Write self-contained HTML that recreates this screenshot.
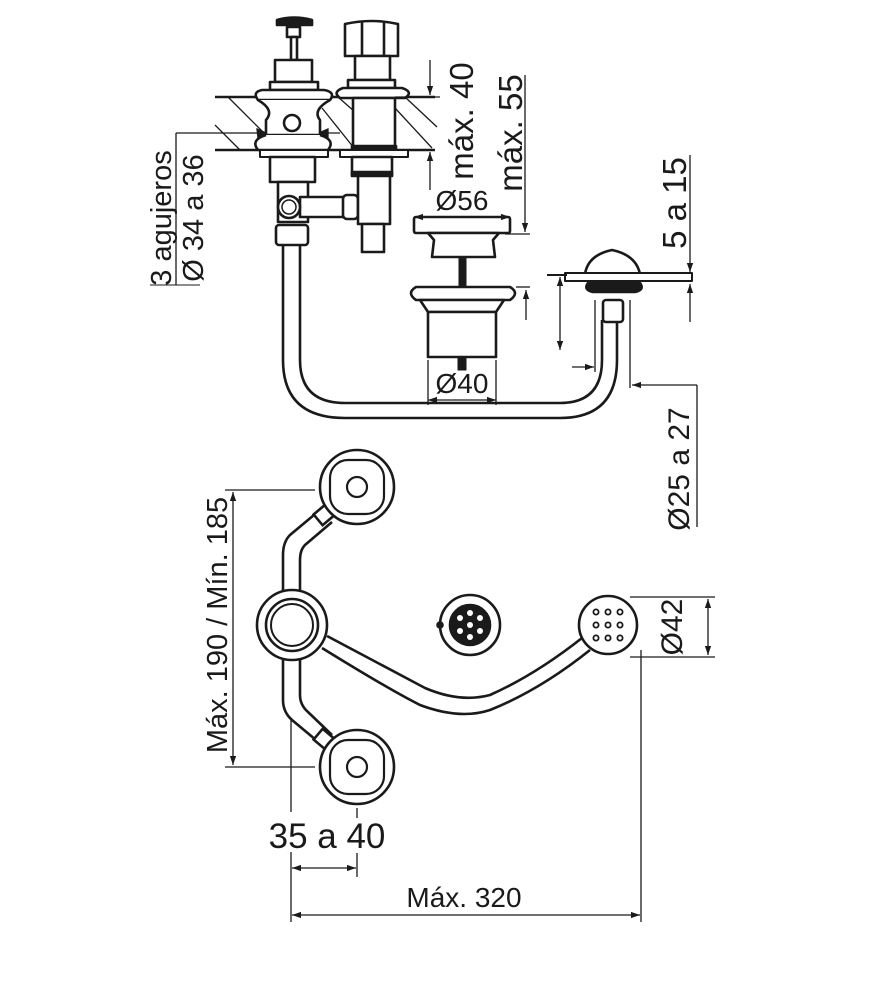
<!DOCTYPE html>
<html><head><meta charset="utf-8"><style>
html,body{margin:0;padding:0;background:#fff;}
svg{display:block;}
text{font-family:"Liberation Sans",sans-serif;fill:#1a1a1a;}
</style></head><body>
<svg width="870" height="1000" viewBox="0 0 870 1000" xmlns="http://www.w3.org/2000/svg">
<defs>
<marker id="a" viewBox="0 0 10 10" refX="10" refY="5" markerWidth="9" markerHeight="9" orient="auto-start-reverse" markerUnits="userSpaceOnUse"><path d="M0,1.5 L10,5 L0,8.5 z" fill="#1a1a1a"/></marker>
</defs>
<g stroke="#1a1a1a" fill="none" stroke-width="1.3">
<line x1="215" y1="97" x2="435" y2="97" stroke-width="2.5"/>
<line x1="215" y1="150" x2="435" y2="150" stroke-width="2.5"/>
<line x1="228" y1="97" x2="266" y2="135"/>
<line x1="215" y1="125" x2="240" y2="150"/>
<line x1="322" y1="108" x2="354" y2="148"/>
<line x1="338" y1="97" x2="355" y2="112"/>
<line x1="395" y1="108" x2="432" y2="148"/>
<line x1="405" y1="97" x2="437" y2="127"/>
<line x1="176" y1="133" x2="262" y2="133"/>
<line x1="320" y1="133" x2="340" y2="133"/>
<line x1="176" y1="133" x2="176" y2="285"/>
<line x1="150" y1="285" x2="200" y2="285" stroke-width="1"/>
<path d="M257,129 L266,133 L258,138z" fill="#1a1a1a"/>
<path d="M328,129 L319,133 L328,138z" fill="#1a1a1a"/>
</g>
<g stroke="#1a1a1a" fill="#fff" stroke-width="2.6" stroke-linejoin="round">
<path d="M277,20 Q294,15 312,20 L312,25 L277,25z" fill="#1a1a1a"/>
<rect x="287" y="27" width="13" height="10"/>
<rect x="291" y="37" width="6" height="23"/>
<rect x="275" y="60" width="37" height="22"/>
<rect x="270" y="82" width="48" height="8"/>
<path d="M262,90 L324,90 Q336,92 330,100 L258,100 Q252,92 262,90z"/>
<path d="M258,100 Q275,110 266,120 L266,135 L320,135 L320,120 Q312,110 330,100"/>
<circle cx="292" cy="123" r="8"/>
<path d="M266,135 Q250,140 258,150 L328,150 Q336,140 320,135"/>
<rect x="260" y="150" width="68" height="7" stroke-width="2"/>
<rect x="270" y="157" width="45" height="25"/>
<rect x="278" y="182" width="30" height="40"/>
<rect x="300" y="197" width="46" height="20"/>
<rect x="343" y="195" width="15" height="24" rx="4"/>
<circle cx="289" cy="207" r="11"/>
<circle cx="289" cy="207" r="7" stroke-width="1.5"/>
<rect x="276" y="225" width="32" height="20" rx="3"/>
<path d="M345,24 Q372,18 398,24 L398,56 L345,56z"/>
<line x1="362" y1="22" x2="362" y2="56"/><line x1="384" y1="22" x2="384" y2="56"/>
<rect x="355" y="56" width="35" height="24"/>
<rect x="348" y="80" width="47" height="8"/>
<path d="M343,88 L402,88 Q414,92 405,98 L340,98 Q332,92 343,88z"/>
<rect x="353" y="98" width="42" height="50"/>
<rect x="352" y="146" width="44" height="4" fill="#1a1a1a"/>
<rect x="340" y="150" width="68" height="7" stroke-width="2"/>
<rect x="352" y="157" width="40" height="18"/>
<rect x="352" y="172" width="40" height="4" fill="#1a1a1a"/>
<rect x="358" y="176" width="32" height="48"/>
<rect x="362" y="224" width="22" height="28"/>
<path d="M283,245 L283,360 Q283,418 345,418 L560,418 Q617,418 617,360 L617,320" fill="none"/>
<path d="M300,245 L300,360 Q300,403 345,403 L560,403 Q602,403 602,360 L602,320" fill="none"/>
<rect x="414" y="217" width="96" height="16" rx="2"/>
<path d="M428,233 L434,240 L432,257 L495,257 L493,240 L499,233z"/>
<rect x="459" y="257" width="7" height="33" fill="#1a1a1a" stroke-width="1"/>
<path d="M416,287 L510,287 Q520,293 510,300 L416,300 Q406,293 416,287z"/>
<path d="M420,300 L428,312 L496,312 L504,300z"/>
<rect x="428" y="312" width="68" height="45"/>
<rect x="458" y="357" width="8" height="13" fill="#1a1a1a" stroke-width="1"/>
<path d="M585,274 Q588,255 612,250 Q636,255 640,274z"/>
<rect x="565" y="273" width="127" height="8" stroke-width="2"/>
<path d="M588,283 L640,283 Q645,290 635,292 L593,292 Q583,290 588,283z" fill="#1a1a1a"/>
<rect x="603" y="300" width="20" height="22" rx="3"/>
</g>
<g stroke="#1a1a1a" fill="none" stroke-width="1.3">
<line x1="430" y1="60" x2="430" y2="95" marker-end="url(#a)"/>
<line x1="430" y1="190" x2="430" y2="152" marker-end="url(#a)"/>
<line x1="395" y1="97" x2="440" y2="97"/>
<line x1="525" y1="75" x2="525" y2="232" marker-end="url(#a)"/>
<line x1="505" y1="234" x2="530" y2="234"/>
<line x1="414" y1="217" x2="510" y2="217" marker-start="url(#a)" marker-end="url(#a)"/>
<line x1="428" y1="360" x2="428" y2="405"/><line x1="496" y1="360" x2="496" y2="405"/>
<line x1="428" y1="400" x2="496" y2="400" marker-start="url(#a)" marker-end="url(#a)"/>
<line x1="516" y1="287" x2="530" y2="287"/>
<line x1="526" y1="320" x2="526" y2="290" marker-end="url(#a)"/>
<line x1="547" y1="275" x2="567" y2="275" stroke-width="2"/>
<line x1="560" y1="277" x2="560" y2="350" marker-start="url(#a)" marker-end="url(#a)"/>
<line x1="572" y1="367" x2="594" y2="367" marker-end="url(#a)"/>
<line x1="595" y1="300" x2="595" y2="372"/>
<line x1="630" y1="300" x2="630" y2="388"/>
<line x1="697" y1="385" x2="632" y2="385" marker-end="url(#a)"/>
<line x1="697" y1="385" x2="697" y2="527"/>
<line x1="690" y1="155" x2="690" y2="272" marker-end="url(#a)"/>
<line x1="690" y1="322" x2="690" y2="284" marker-end="url(#a)"/>
</g>
<g stroke="#1a1a1a" fill="#fff" stroke-width="2.6">
<path d="M320,510 L290,535 Q283,542 283,555 L283,592" fill="none"/>
<path d="M332,522 L305,545 Q300,550 300,560 L300,592" fill="none"/>
<path d="M283,658 L283,700 Q283,712 292,720 L322,745" fill="none"/>
<path d="M300,658 L300,695 Q300,705 308,712 L332,735" fill="none"/>
<path d="M322,648 Q390,690 420,705 Q460,720 490,710 Q540,690 590,650" fill="none"/>
<path d="M327,636 Q395,672 425,688 Q460,703 490,695 Q535,675 582,638" fill="none"/>
<rect x="318" y="505" width="14" height="18" transform="rotate(50 325 514)"/>
<rect x="318" y="731" width="14" height="18" transform="rotate(-50 325 740)"/>
<circle cx="357" cy="487" r="37"/>
<rect x="330" y="460" width="54" height="54" rx="18" stroke-width="2.2"/>
<circle cx="357" cy="487" r="10" stroke-width="2.2"/>
<circle cx="357" cy="767" r="37"/>
<rect x="330" y="740" width="54" height="54" rx="18" stroke-width="2.2"/>
<circle cx="357" cy="767" r="10" stroke-width="2.2"/>
<circle cx="292" cy="625" r="35"/>
<circle cx="292" cy="625" r="26"/>
<circle cx="292" cy="625" r="21" stroke-width="2"/>
<circle cx="470" cy="625" r="30"/>
<circle cx="470" cy="625" r="20" fill="#1a1a1a"/>
<circle cx="440" cy="625" r="2.5" fill="#1a1a1a"/>
<circle cx="608" cy="625" r="29"/>
</g>
<g fill="#fff">
<circle cx="470" cy="613" r="3"/><circle cx="480" cy="618" r="3"/><circle cx="480" cy="631" r="3"/><circle cx="470" cy="637" r="3"/><circle cx="460" cy="631" r="3"/><circle cx="460" cy="618" r="3"/><circle cx="470" cy="625" r="3"/>
</g>
<g fill="#fff" stroke="#1a1a1a" stroke-width="1.8">
<circle cx="596" cy="612" r="2.6"/><circle cx="608" cy="612" r="2.6"/><circle cx="620" cy="612" r="2.6"/>
<circle cx="596" cy="625" r="2.6"/><circle cx="608" cy="625" r="2.6"/><circle cx="620" cy="625" r="2.6"/>
<circle cx="596" cy="638" r="2.6"/><circle cx="608" cy="638" r="2.6"/><circle cx="620" cy="638" r="2.6"/>
</g>
<g stroke="#1a1a1a" fill="none" stroke-width="1.3">
<line x1="225" y1="490" x2="315" y2="490"/>
<line x1="225" y1="767" x2="315" y2="767"/>
<line x1="233" y1="492" x2="233" y2="765" marker-start="url(#a)" marker-end="url(#a)"/>
<line x1="291" y1="720" x2="291" y2="812"/>
<line x1="291" y1="852" x2="291" y2="922"/>
<line x1="357" y1="808" x2="357" y2="818"/>
<line x1="357" y1="853" x2="357" y2="877"/>
<line x1="292" y1="868" x2="356" y2="868" marker-start="url(#a)" marker-end="url(#a)"/>
<line x1="641" y1="650" x2="641" y2="922"/>
<line x1="292" y1="915" x2="640" y2="915" marker-start="url(#a)" marker-end="url(#a)"/>
<line x1="630" y1="597" x2="715" y2="597"/>
<line x1="630" y1="657" x2="715" y2="657"/>
<line x1="708" y1="599" x2="708" y2="655" marker-start="url(#a)" marker-end="url(#a)"/>
</g>
<g font-size="29">
<text transform="translate(171,218) rotate(-90)" text-anchor="middle" font-size="29">3 agujeros</text>
<text transform="translate(203,218) rotate(-90)" text-anchor="middle" font-size="29">Ø 34 a 36</text>
<text transform="translate(473,121) rotate(-90)" text-anchor="middle" font-size="33">máx. 40</text>
<text transform="translate(522,133) rotate(-90)" text-anchor="middle" font-size="33">máx. 55</text>
<text x="462" y="210" text-anchor="middle" font-size="28">Ø56</text>
<text x="462" y="393" text-anchor="middle" font-size="28">Ø40</text>
<text transform="translate(686,203) rotate(-90)" text-anchor="middle" font-size="33">5 a 15</text>
<text transform="translate(689,469) rotate(-90)" text-anchor="middle" font-size="30">Ø25 a 27</text>
<text transform="translate(227,625) rotate(-90)" text-anchor="middle" font-size="29">Máx. 190 / Mín. 185</text>
<text transform="translate(682,627) rotate(-90)" text-anchor="middle" font-size="30">Ø42</text>
<text x="327" y="848" text-anchor="middle" font-size="35">35 a 40</text>
<text x="464" y="907" text-anchor="middle" font-size="28">Máx. 320</text>
</g>
</svg>
</body></html>
